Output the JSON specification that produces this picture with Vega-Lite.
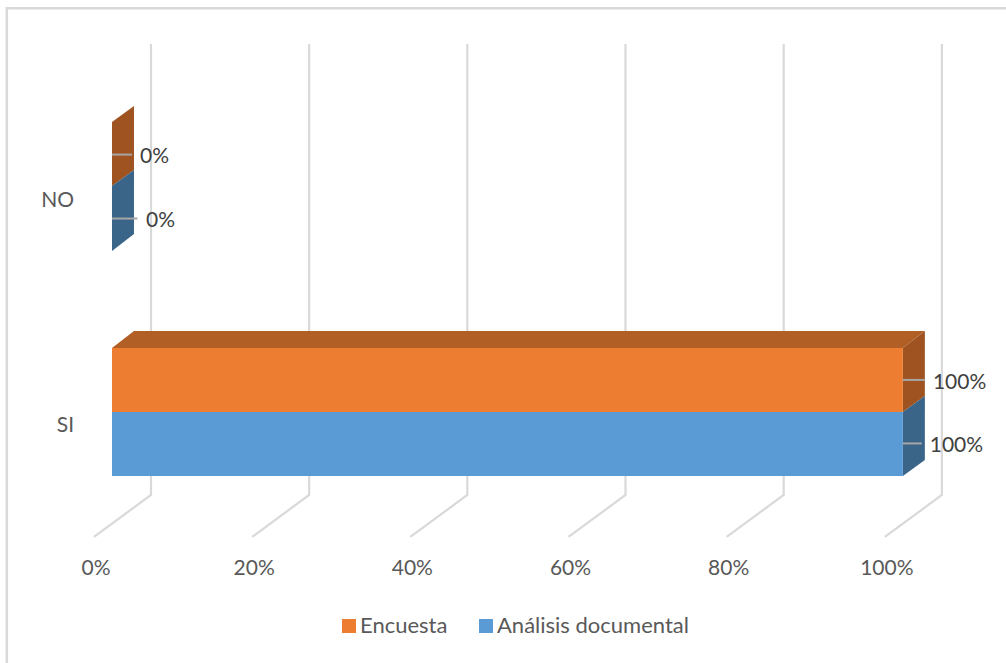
{
"$schema":"https://vega.github.io/schema/vega-lite/v6.json",
"width":1006,"height":663,"padding":0,"autosize":{"type":"none"},
"background":"white",
"config":{"view":{"stroke":null},"font":"Lato"},
"datasets":{
"grid":[
{"tick":0,"x":4.93,"y":1.628},{"tick":0,"x":4.93,"y":-0.367},{"tick":0,"x":-2.28,"y":-0.553},
{"tick":20,"x":24.93,"y":1.628},{"tick":20,"x":24.93,"y":-0.367},{"tick":20,"x":17.72,"y":-0.553},
{"tick":40,"x":44.93,"y":1.628},{"tick":40,"x":44.93,"y":-0.367},{"tick":40,"x":37.72,"y":-0.553},
{"tick":60,"x":64.93,"y":1.628},{"tick":60,"x":64.93,"y":-0.367},{"tick":60,"x":57.72,"y":-0.553},
{"tick":80,"x":84.93,"y":1.628},{"tick":80,"x":84.93,"y":-0.367},{"tick":80,"x":77.72,"y":-0.553},
{"tick":100,"x":104.93,"y":1.628},{"tick":100,"x":104.93,"y":-0.367},{"tick":100,"x":97.72,"y":-0.553}
],
"frame":[{"x":-13.3,"y":-1.2},{"x":-13.3,"y":1.787},{"x":114,"y":1.787}],
"orangeSide":[
{"f":"no","x":0,"y":1.283,"y2":1.0},{"f":"no","x":2.78,"y":1.354,"y2":1.071},
{"f":"si","x":100,"y":0.283,"y2":0},{"f":"si","x":102.78,"y":0.358,"y2":0.071}
],
"blueSide":[
{"f":"no","x":0,"y":1.0,"y2":0.712},{"f":"no","x":2.78,"y":1.071,"y2":0.788},
{"f":"si","x":100,"y":0,"y2":-0.283},{"f":"si","x":102.78,"y":0.071,"y2":-0.212}
],
"top":[
{"x":0,"y":0.283,"y2":0.283},{"x":2.78,"y":0.358,"y2":0.283},{"x":100,"y":0.358,"y2":0.283},{"x":102.78,"y":0.358,"y2":0.358}
],
"bars":[
{"cat":"SI","series":"Encuesta","x0":0,"value":100,"y0":0,"y1":0.283},
{"cat":"SI","series":"Análisis documental","x0":0,"value":100,"y0":-0.283,"y1":0},
{"cat":"NO","series":"Encuesta","x0":0,"value":0,"y0":1.0,"y1":1.283},
{"cat":"NO","series":"Análisis documental","x0":0,"value":0,"y0":0.712,"y1":1.0}
],
"leaders":[
{"x":100,"x2":102.78,"y":0.142},{"x":100,"x2":102.4,"y":-0.139},
{"x":0,"x2":2.53,"y":1.139},{"x":0,"x2":3.22,"y":0.856}
],
"dataLabels":[
{"x":103.8,"y":0.137,"t":"100%"},{"x":103.4,"y":-0.146,"t":"100%"},
{"x":3.54,"y":1.133,"t":"0%"},{"x":4.3,"y":0.85,"t":"0%"}
],
"cats":[{"x":-4.8,"y":0.942,"t":"NO"},{"x":-4.8,"y":-0.0575,"t":"SI"}],
"ticks":[
{"x":0,"y":-0.686,"t":"0%"},{"x":20,"y":-0.686,"t":"20%"},{"x":40,"y":-0.686,"t":"40%"},
{"x":60,"y":-0.686,"t":"60%"},{"x":80,"y":-0.686,"t":"80%"},{"x":100,"y":-0.686,"t":"100%"}
]
},
"encoding":{
"x":{"field":"x","type":"quantitative","axis":null,"scale":{"domain":[-14.16,113.04],"nice":false,"zero":false}},
"y":{"field":"y","type":"quantitative","axis":null,"scale":{"domain":[-1.1106,1.823],"nice":false,"zero":false}}
},
"layer":[
{"data":{"name":"frame"},"mark":{"type":"line","color":"#d9d9d9","strokeWidth":2.5},"encoding":{"order":{"field":"y"}}},
{"data":{"name":"grid"},"mark":{"type":"line","color":"#d9d9d9","strokeWidth":2.2},"encoding":{"detail":{"field":"tick"},"order":{"field":"y","sort":"descending"}}},
{"data":{"name":"top"},"mark":{"type":"area","color":"#b25f26","opacity":1},"encoding":{"y2":{"field":"y2"}}},
{"data":{"name":"orangeSide"},"mark":{"type":"area","color":"#9e5320","opacity":1},"encoding":{"y2":{"field":"y2"},"detail":{"field":"f"}}},
{"data":{"name":"blueSide"},"mark":{"type":"area","color":"#3b6588","opacity":1},"encoding":{"y2":{"field":"y2"},"detail":{"field":"f"}}},
{"data":{"name":"bars"},"mark":{"type":"rect"},"encoding":{
"x":{"field":"x0","type":"quantitative"},"x2":{"field":"value"},
"y":{"field":"y0","type":"quantitative"},"y2":{"field":"y1"},
"color":{"field":"series","type":"nominal","scale":{"domain":["Encuesta","Análisis documental"],"range":["#ed7d31","#5b9bd5"]},
"legend":{"title":null,"orient":"none","legendX":338,"legendY":615,"direction":"horizontal","columns":2,"symbolType":"square","symbolSize":196,"symbolStrokeWidth":0,"labelFontSize":22,"labelFont":"Lato","labelColor":"#595959","columnPadding":27,"labelOffset":0,"labelLimit":400}}
}},
{"data":{"name":"leaders"},"mark":{"type":"rule","color":"#a6a6a6","strokeWidth":2},"encoding":{"x2":{"field":"x2"}}},
{"data":{"name":"dataLabels"},"mark":{"type":"text","align":"left","baseline":"middle","fontSize":21,"color":"#404040","dy":1.5},"encoding":{"text":{"field":"t"}}},
{"data":{"name":"cats"},"mark":{"type":"text","align":"right","baseline":"middle","fontSize":21,"color":"#595959","dy":1.5},"encoding":{"text":{"field":"t"}}},
{"data":{"name":"ticks"},"mark":{"type":"text","align":"center","baseline":"middle","fontSize":21,"color":"#595959","xOffset":-16,"dy":1.5},"encoding":{"text":{"field":"t"}}}
]
}
